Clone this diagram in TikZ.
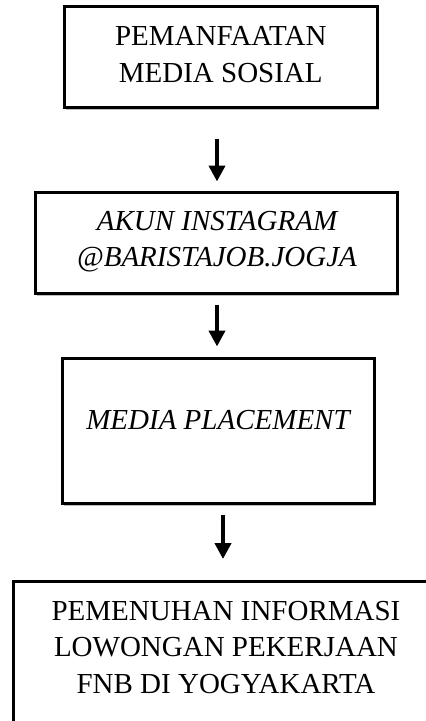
\documentclass[tikz,border=0pt]{standalone}
\usepackage{fontspec}
\setmainfont{Liberation Serif}
\usetikzlibrary{arrows.meta,shadows}
\begin{document}
\begin{tikzpicture}[x=1pt,y=-1pt,
  box/.style={draw=black,line width=3pt,fill=white,inner sep=0pt,
    drop shadow={shadow xshift=1.5pt,shadow yshift=-2.5pt,opacity=0.25,fill=black}},
  lbl/.style={inner sep=0pt,align=center,font=\fontsize{29}{36.5}\selectfont},
  arr/.style={line width=4pt,-{Triangle[length=16pt,width=16pt]}}]
\useasboundingbox (0,0) rectangle (426,721);
\node[box,minimum width=313pt,minimum height=101pt] (b1) at (220.5,56.5) {};
\node[box,minimum width=362pt,minimum height=101pt] (b2) at (216,242.5) {};
\node[box,minimum width=312pt,minimum height=145pt] (b3) at (218,430.5) {};
\begin{scope}
\clip (0,0) rectangle (426,721);
\node[box,minimum width=426pt,minimum height=190pt,anchor=north] (b4) at (226,580) {};
\end{scope}
\node[lbl] (t1) at (220.8,54.5) {PEMANFAATAN\\MEDIA SOSIAL};
\node[lbl,font=\fontsize{29}{36.5}\selectfont\itshape] (t2) at (217,241.5) {AKUN INSTAGRAM\\@BARISTAJOB.JOGJA};
\node[lbl,font=\fontsize{29}{36.5}\selectfont\itshape] (t3) at (218,420.5) {MEDIA PLACEMENT};
\node[lbl] (t4) at (226,647.5) {PEMENUHAN INFORMASI\\LOWONGAN PEKERJAAN\\FNB DI YOGYAKARTA};
\coordinate (xa) at (217,0);
\coordinate (xb) at (223,0);
\draw[arr,shorten <=30pt,shorten >=9pt] (b1.south -| xa) -- (b2.north -| xa);
\draw[arr,shorten <=10pt,shorten >=10pt] (b2.south -| xa) -- (b3.north -| xa);
\draw[arr,shorten <=10pt,shorten >=21pt] (b3.south -| xb) -- (b4.north -| xb);
\end{tikzpicture}
\end{document}
